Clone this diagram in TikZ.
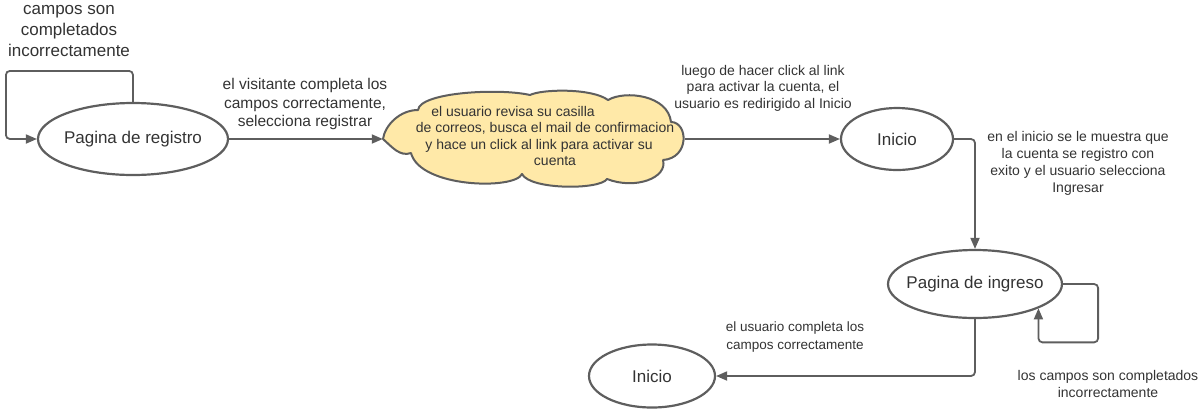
\documentclass[tikz,border=0pt]{standalone}
\usepackage{fontspec}
\setmainfont{Liberation Sans}
\usetikzlibrary{shapes.geometric,arrows.meta}
\definecolor{linegray}{HTML}{5E5E5E}
\definecolor{txtgray}{HTML}{333333}
\definecolor{cloudfill}{HTML}{FFE9A8}
\tikzset{
  state/.style={ellipse,draw=linegray,line width=2.2pt,inner sep=-12pt,text=txtgray,
    font=\fontsize{17}{20}\selectfont},
  edge/.style={draw=linegray,line width=1.8pt,rounded corners=4pt,
    -{Triangle[length=11pt,width=9pt]}},
  lbl/.style={align=center,text=txtgray,inner sep=0pt}
}

\begin{document}
\begin{tikzpicture}[x=1pt,y=-1pt]
    \useasboundingbox (0,0) rectangle (1204,416);
    \node[state,minimum width=190pt,minimum height=72pt] (reg) at (133,139) {Pagina de registro};
    % nube del mail
    \draw[draw=linegray,fill=cloudfill,line width=2pt,line join=round]
      (383,139) .. controls (385,125) and (400,110) .. (418,110)
      .. controls (420,92) and (500,88) .. (530,95)
      .. controls (542,89) and (592,88) .. (608,100)
      .. controls (625,90) and (668,95) .. (671,122)
      .. controls (688,122) and (690,158) .. (663,160)
      .. controls (668,178) and (635,190) .. (607,179)
      .. controls (600,190) and (530,190) .. (522,174)
      .. controls (515,190) and (420,188) .. (411,153)
      .. controls (400,157) and (392,147) .. cycle;
    \node[minimum width=302pt,minimum height=95pt,inner sep=0pt] (mail) at (534,139) {};
    \node[lbl,font=\fontsize{14}{16.2}\selectfont] (mailtxt) at (531,136)
    {el usuario revisa su casilla\hspace*{36pt}\\\hspace*{28pt}de correos, busca el mail de confirmacion\\
     \hspace*{16pt}y hace un click al link para activar su\\\hspace*{48pt}cuenta};
    \node[state,minimum width=112pt,minimum height=62pt] (ini) at (897,139) {Inicio};
    \node[state,minimum width=174pt,minimum height=68pt] (ing) at (975,284) {Pagina de ingreso};
    \node[state,minimum width=126pt,minimum height=63pt] (fin) at (652,376) {Inicio};

    \draw[edge](reg.north)--++(0,-31)-|([xshift=-31pt]reg.west)--(reg.west);
    \draw[edge](reg.east)--(mail.west);
    \draw[edge](mail.east)--(ini.west);
    \draw[edge](ini.east)-|(ing.north);
    \draw[edge](ing.east)--++(35,0)|-([yshift=-34pt]ing.-21)--(ing.-21);
    \draw[edge](ing.south)|-(fin.east);

    \node[lbl,font=\fontsize{17}{21}\selectfont] (regloop) at (69,31)
    {campos son\\completados\\incorrectamente};
    \node[lbl,font=\fontsize{15.5}{18.3}\selectfont] (regok) at (305,104)
    {el visitante completa los\\campos correctamente,\\selecciona registrar};
    \node[lbl,font=\fontsize{14}{16.5}\selectfont] (link) at (763,88)
    {luego de hacer click al link\\para activar la cuenta, el\\usuario es redirigido al Inicio};
    \node[lbl,font=\fontsize{14}{17}\selectfont] (exito) at (1078,163.5)
    {en el inicio se le muestra que\\la cuenta se registro con\\exito y el usuario selecciona\\Ingresar};
    \node[lbl,font=\fontsize{13.5}{18}\selectfont] (ingok) at (795,337)
    {el usuario completa los\\campos correctamente};
    \node[lbl,font=\fontsize{14}{17}\selectfont] (ingloop) at (1108,383.5)
    {los campos son completados\\incorrectamente};
\end{tikzpicture}
\end{document}
